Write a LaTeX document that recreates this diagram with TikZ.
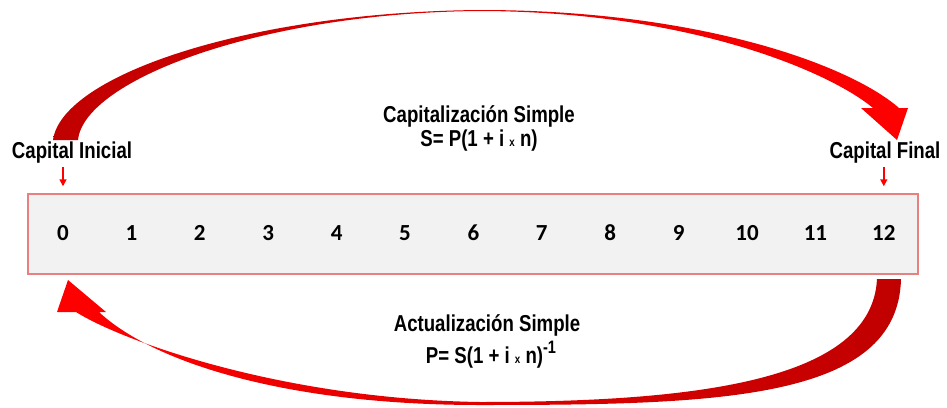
\documentclass[tikz,border=0pt]{standalone}
\usepackage{fontspec}
\usepackage{tikz}
\usetikzlibrary{arrows.meta}
\newfontfamily\narrowfont{Liberation Sans}[FakeStretch=0.81]
\newfontfamily\numfont{Carlito}
\definecolor{darkred}{HTML}{C00000}
\definecolor{brightred}{HTML}{FF0000}
\definecolor{boxline}{HTML}{E88080}
\definecolor{boxfill}{HTML}{F2F2F2}

\begin{document}
\begin{tikzpicture}[x=1pt,y=-1pt,
  lbl/.style={font=\narrowfont\bfseries\fontsize{23}{24}\selectfont, inner sep=0pt, anchor=base},
  num/.style={font=\numfont\bfseries\fontsize{23}{23}\selectfont, inner sep=0pt, anchor=base},
  pointer/.style={draw=brightred, line width=1.5pt, -{Triangle[width=7pt,length=7pt]}}]
\useasboundingbox (0,0) rectangle (947,407);

% Time line
\node[draw=boxline, fill=boxfill, line width=1.5pt, minimum width=890pt,
  minimum height=80pt, inner sep=0pt] (timeline) at (473,234) {};
\foreach \k in {0,...,12}
  \node[num] (n\k) at ({63+68.4*\k},240) {\k};

% Capital labels
\node[lbl] (ini) at (72,158) {Capital Inicial};
\node[lbl] (fin) at (885,158) {Capital Final};
\draw[pointer] ([yshift=-4pt]ini.south -| n0) -- ([yshift=7pt]timeline.north -| n0);
\draw[pointer] ([yshift=-4pt]fin.south -| n12) -- ([yshift=7pt]timeline.north -| n12);

% Upper arrow
\shade[left color=darkred, right color=brightred]
  (53,140) .. controls (62,75) and (250,12) .. (480,10)
  .. controls (700,10) and (850,65) .. (899,108)
  -- (908,108) -- (897,140) -- (861,108) -- (873,108)
  .. controls (830,72) and (690,11.5) .. (480,11)
  .. controls (262,12.5) and (84,80) .. (78,140) -- cycle;
\node[lbl] (capt) at (479,122) {Capitalizaci\'on Simple};
\node[lbl] (capf) at (479,146) {S= P(1 + i {\fontsize{12}{12}\selectfont x} n)};

% Lower arrow
\shade[left color=brightred, right color=darkred]
  (901,279) .. controls (898,400) and (720,405) .. (480,405)
  .. controls (280,405) and (150,360) .. (99,312)
  -- (106,312) -- (68,280) -- (57,312) -- (76,312)
  .. controls (120,340) and (280,399) .. (480,402)
  .. controls (700,402) and (872,380) .. (877,279) -- cycle;
\node[lbl] (actt) at (487,331) {Actualizaci\'on Simple};
\node[lbl] (actf) at (491,363) {P= S(1 + i {\fontsize{12}{12}\selectfont x} n)\raisebox{10pt}{\fontsize{18}{18}\selectfont -1}};

\end{tikzpicture}
\end{document}
